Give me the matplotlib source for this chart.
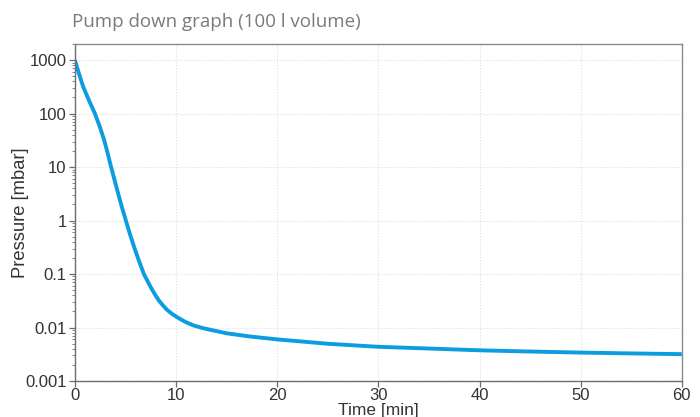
import matplotlib.pyplot as plt
from matplotlib.ticker import FixedLocator, LogLocator, NullFormatter

# Pump down curve
time_min = [0, 0.395, 0.824, 1.384, 1.977, 2.471, 2.899, 3.25, 3.58, 3.93,
            4.283, 4.646, 5.041, 5.436, 5.865, 6.326, 6.82, 7.51, 7.9, 8.3,
            8.7, 9.1, 9.6, 10.2, 10.9, 11.7, 12.6, 13.6, 15, 17.3, 20, 25, 30,
            35, 40, 45, 50, 55, 60]
pressure_mbar = [1000, 562, 316, 178, 100, 56.2, 31.6, 17.8, 10, 5.62,
                 3.16, 1.78, 1.0, 0.562, 0.316, 0.178, 0.1, 0.0562, 0.042, 0.032,
                 0.026, 0.0215, 0.018, 0.0152, 0.0128, 0.0110, 0.0098, 0.0089,
                 0.0078, 0.0068, 0.00600, 0.00497, 0.00436, 0.00405, 0.00375,
                 0.00356, 0.0034, 0.00328, 0.00318]

x_ticks = [0, 10, 20, 30, 40, 50, 60]
y_ticks = [0.001, 0.01, 0.1, 1, 10, 100, 1000]
y_tick_labels = ["0.001", "0.01", "0.1", "1", "10", "100", "1000"]

LINE_COLOR = "#0b9de0"
SPINE_COLOR = "#6e6e6e"

plt.rcParams["font.family"] = ["Liberation Sans", "DejaVu Sans"]

fig = plt.figure(figsize=(7.0, 4.17), dpi=100)
ax = fig.add_axes([0.107, 0.0863, 0.867, 0.8082])

ax.plot(time_min, pressure_mbar, color=LINE_COLOR, lw=2.8,
        solid_capstyle="butt", solid_joinstyle="round")

ax.set_yscale("log")
ax.set_xlim(0, 60)
ax.set_ylim(0.001, 2000)

ax.xaxis.set_major_locator(FixedLocator(x_ticks))
ax.set_yticks(y_ticks)
ax.set_yticklabels(y_tick_labels)
ax.yaxis.set_minor_locator(LogLocator(base=10, subs=range(2, 10)))
ax.yaxis.set_minor_formatter(NullFormatter())

ax.grid(True, which="major", color="#e2e2e2", lw=0.8, ls=(0, (1.2, 1.5)))
ax.set_axisbelow(True)

for sp in ax.spines.values():
    sp.set_color(SPINE_COLOR)
    sp.set_linewidth(1.0)
ax.spines["top"].set_color("#8a8a8a")
ax.spines["right"].set_color("#8a8a8a")

ax.tick_params(axis="both", which="major", direction="out", length=4,
               width=0.9, color=SPINE_COLOR, labelsize=12, labelcolor="#333333",
               pad=2)
ax.tick_params(axis="y", which="minor", direction="out", length=2,
               width=0.6, color=SPINE_COLOR)
ax.tick_params(axis="x", which="major", pad=1)

ax.set_xlabel("Time [min]", fontsize=12.5, color="#333333", labelpad=0)
ax.set_ylabel("Pressure [mbar]", fontsize=13.2, color="#333333", va="center")
ax.yaxis.set_label_coords(-0.0895, 0.5)

fig.text(0.103, 0.935, "Pump down graph (100 l volume)", fontsize=13.5,
         color="#7a7a7a", family=["Open Sans", "DejaVu Sans"],
         ha="left", va="baseline")

fig.savefig("out.png", dpi=100)
